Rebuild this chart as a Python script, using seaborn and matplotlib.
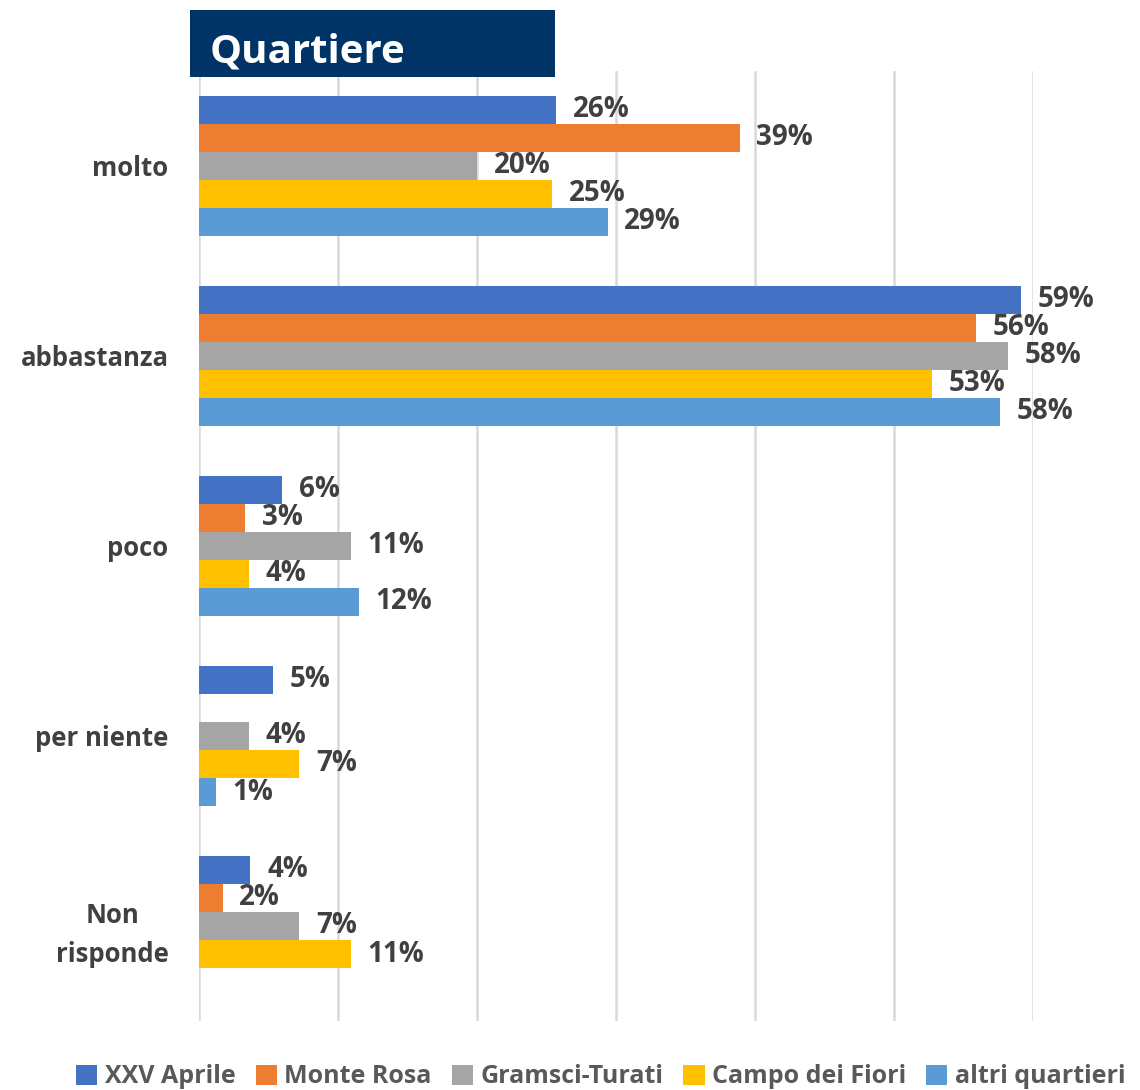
import matplotlib
matplotlib.use("Agg")
import matplotlib.pyplot as plt
import matplotlib.patches as mpatches
import seaborn as sns
import pandas as pd

categories = ["molto", "abbastanza", "poco", "per niente", "Non\nrisponde"]
series = ["XXV Aprile", "Monte Rosa", "Gramsci-Turati", "Campo dei Fiori", "altri quartieri"]
colors = ["#4472C4", "#ED7D31", "#A5A5A5", "#FFC000", "#5B9BD5"]

xxv_aprile = [25.7, 59.1, 6.0, 5.3, 3.7]
monte_rosa = [38.9, 55.9, 3.3, None, 1.7]
gramsci_turati = [20.0, 58.2, 10.9, 3.6, 7.2]
campo_fiori = [25.4, 52.7, 3.6, 7.2, 10.9]
altri_quartieri = [29.4, 57.6, 11.5, 1.2, None]

rows = []
for name, vals in zip(series, [xxv_aprile, monte_rosa, gramsci_turati, campo_fiori, altri_quartieri]):
    for cat, v in zip(categories, vals):
        if v is not None:
            rows.append({"risposta": cat, "quartiere": name, "valore": v})
df = pd.DataFrame(rows)

sns.set_theme(style="white")
plt.rcParams["font.family"] = ["Open Sans", "DejaVu Sans"]

text_color = "#404040"

fig = plt.figure(figsize=(11.4, 10.9), dpi=100)
ax = fig.add_axes([0.1746, 0.0633, 0.7316, 0.8716])

sns.barplot(data=df, x="valore", y="risposta", hue="quartiere", order=categories,
            hue_order=series, palette=colors, saturation=1, width=0.737, gap=0,
            linewidth=0, errorbar=None, ax=ax)

for container in ax.containers:
    labels = [f"{v:.0f}%" for v in container.datavalues]
    ax.bar_label(container, labels=labels, padding=12, fontsize=20,
                 fontweight="bold", color=text_color)

ax.set_xlim(0, 60)
ax.set_xticks(range(0, 61, 10))
ax.xaxis.grid(True, color="#D9D9D9", linewidth=1.8)
ax.set_axisbelow(True)
ax.tick_params(axis="x", labelbottom=False, length=0)
ax.tick_params(axis="y", length=0, pad=22, labelsize=18.5, labelcolor=text_color)
for lbl in ax.get_yticklabels():
    lbl.set_fontweight("bold")
    lbl.set_multialignment("center")
    lbl.set_linespacing(1.55)
ax.set_xlabel("")
ax.set_ylabel("")
sns.despine(ax=ax, left=True, bottom=True)

handles, labels = ax.get_legend_handles_labels()
ax.get_legend().remove()
fig.legend(handles, labels, loc="lower center", bbox_to_anchor=(0.527, -0.02), ncol=5,
           frameon=False, handlelength=0.85, handleheight=0.85, handletextpad=0.3,
           columnspacing=0.8, prop={"size": 18, "weight": "bold"}, labelcolor="#595959")

# title box
fig.patches.append(mpatches.Rectangle((190 / 1140, 1 - 77 / 1090), 365 / 1140, 67 / 1090,
                                      transform=fig.transFigure, facecolor="#003366",
                                      edgecolor="none", zorder=5))
fig.text(210 / 1140, 1 - 52 / 1090, "Quartiere", color="white", fontsize=29,
         fontweight="bold", va="center", ha="left", zorder=6)

fig.savefig("out.png", dpi=100)
